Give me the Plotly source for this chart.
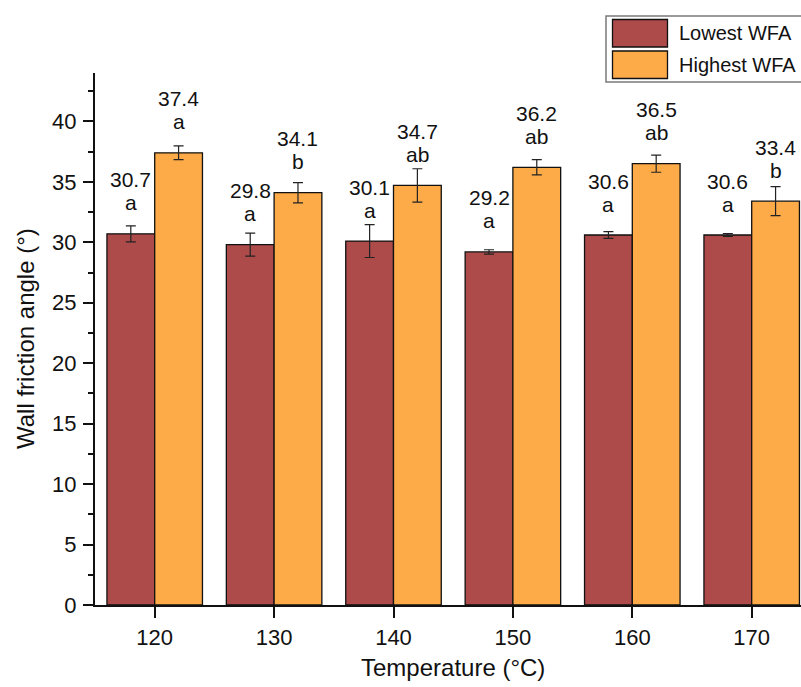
import plotly.graph_objects as go

# Wall friction angle measured at each drying temperature
temperatures = [120, 130, 140, 150, 160, 170]
lowest_wfa = [30.7, 29.8, 30.1, 29.2, 30.6, 30.6]
lowest_err = [0.66, 0.95, 1.36, 0.18, 0.28, 0.12]
lowest_letters = ["a", "a", "a", "a", "a", "a"]
highest_wfa = [37.4, 34.1, 34.7, 36.2, 36.5, 33.4]
highest_err = [0.57, 0.84, 1.38, 0.63, 0.71, 1.20]
highest_letters = ["a", "b", "ab", "ab", "ab", "b"]
series_names = ["Lowest WFA", "Highest WFA"]

RED = "#AD4A4A"
ORANGE = "#FDAA48"
FONT = "Arial, 'Liberation Sans', sans-serif"

W, H = 801, 687
ML, MT, MB = 95, 73, 82
plot_h = H - MT - MB
plot_w = W - ML


def paper_x(px):
    return (px - ML) / plot_w


def paper_y(py):
    return (H - MB - py) / plot_h


fig = go.Figure()
for name, vals, errs, color in [
    (series_names[0], lowest_wfa, lowest_err, RED),
    (series_names[1], highest_wfa, highest_err, ORANGE),
]:
    fig.add_trace(go.Bar(
        x=temperatures, y=vals, name=name,
        marker=dict(color=color, line=dict(color="#111111", width=1.3)),
        error_y=dict(type="data", array=errs, visible=True,
                     color="#222222", thickness=1.2, width=5),
        showlegend=False,
    ))

# value and significance letters above each bar
annotations = []
for vals, letters, dx in [(lowest_wfa, lowest_letters, -2), (highest_wfa, highest_letters, 2)]:
    for t, v, letter in zip(temperatures, vals, letters):
        annotations.append(dict(x=t + dx, y=v, xref="x", yref="y", text=f"{v}",
                                showarrow=False, yanchor="middle", yshift=54,
                                font=dict(size=21, color="#111111", family=FONT)))
        annotations.append(dict(x=t + dx, y=v, xref="x", yref="y", text=letter,
                                showarrow=False, yanchor="middle", yshift=31,
                                font=dict(size=21, color="#111111", family=FONT)))

# axis titles
annotations.append(dict(x=145, y=0, xref="x", yref="paper", yshift=-62,
                        text="Temperature (°C)", showarrow=False, yanchor="middle",
                        font=dict(size=24, color="#111111", family=FONT)))
annotations.append(dict(x=paper_x(25), y=0.5, xref="paper", yref="paper",
                        text="Wall friction angle (°)", showarrow=False, textangle=-90,
                        xanchor="center", yanchor="middle",
                        font=dict(size=24, color="#111111", family=FONT)))

# legend box
shapes = [dict(type="rect", xref="paper", yref="paper",
               x0=paper_x(606), x1=paper_x(812), y0=paper_y(82), y1=paper_y(16),
               line=dict(color="#7a7a7a", width=1.5), fillcolor="white")]
for i, (name, color) in enumerate(zip(series_names, [RED, ORANGE])):
    top = 19.5 + i * 31.5
    shapes.append(dict(type="rect", xref="paper", yref="paper",
                       x0=paper_x(612.5), x1=paper_x(667.5),
                       y0=paper_y(top + 27.5), y1=paper_y(top),
                       line=dict(color="#111111", width=1.3), fillcolor=color))
    annotations.append(dict(x=paper_x(677), y=paper_y(top + 14), xref="paper", yref="paper",
                            text=name, showarrow=False, xanchor="left", yanchor="middle",
                            font=dict(size=20, color="#111111", family=FONT)))

fig.update_layout(
    width=W, height=H,
    margin=dict(l=ML, r=0, t=MT, b=MB, pad=0),
    paper_bgcolor="white", plot_bgcolor="white",
    barmode="group", bargap=0.2, bargroupgap=0,
    font=dict(family=FONT, size=21, color="#111111"),
    annotations=annotations, shapes=shapes,
    showlegend=False,
)
fig.update_xaxes(
    range=[115, 115 + plot_w / 11.94], tickvals=temperatures,
    ticks="outside", ticklen=11, tickwidth=1.5, tickcolor="#111111",
    showline=True, linecolor="#111111", linewidth=1.8,
    showgrid=False, zeroline=False, ticklabelstandoff=1,
    tickfont=dict(size=22, family=FONT, color="#111111"),
)
fig.update_yaxes(
    range=[0, 44], tickvals=[0, 5, 10, 15, 20, 25, 30, 35, 40],
    ticks="outside", ticklen=10, tickwidth=1.5, tickcolor="#111111",
    minor=dict(tickvals=[2.5, 7.5, 12.5, 17.5, 22.5, 27.5, 32.5, 37.5, 42.5],
               ticks="outside", ticklen=5, tickwidth=1.5, tickcolor="#111111"),
    showline=True, linecolor="#111111", linewidth=2,
    showgrid=False, zeroline=False, ticklabelstandoff=2,
    tickfont=dict(size=22, family=FONT, color="#111111"),
)

fig.write_html("out.html")
